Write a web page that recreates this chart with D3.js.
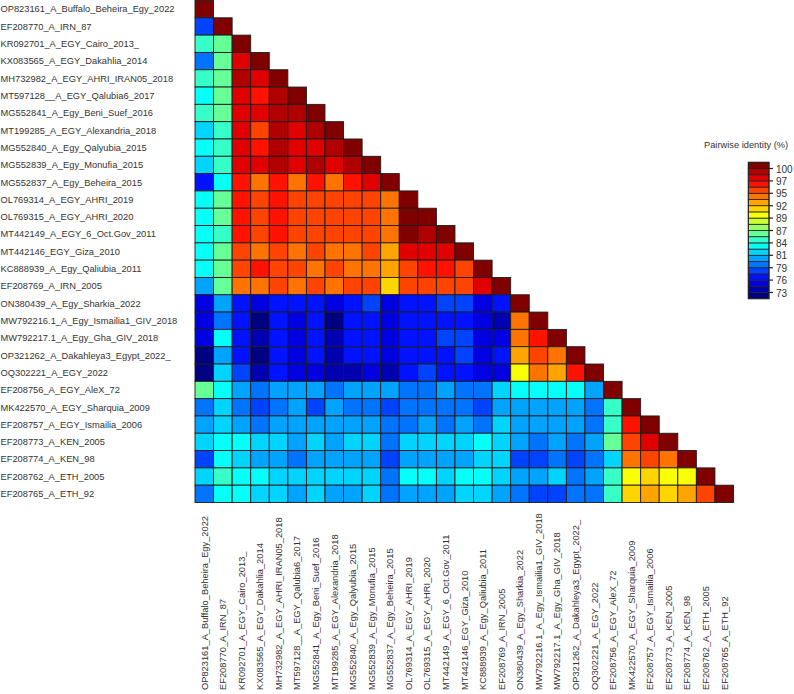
<!DOCTYPE html>
<html>
<head>
<meta charset="utf-8">
<script src="https://cdn.jsdelivr.net/npm/d3@7"></script>
<style>
  body { margin: 0; background: #fff; }
  svg { display: block; font-family: "Liberation Sans", Arial, sans-serif; }
</style>
</head>
<body>
<svg id="chart" width="794" height="694"></svg>
<script>
// sequence names (rows top->bottom, columns left->right)
const seqNames = [
  "OP823161_A_Buffalo_Beheira_Egy_2022",
  "EF208770_A_IRN_87",
  "KR092701_A_EGY_Cairo_2013_",
  "KX083565_A_EGY_Dakahlia_2014",
  "MH732982_A_EGY_AHRI_IRAN05_2018",
  "MT597128__A_EGY_Qalubia6_2017",
  "MG552841_A_Egy_Beni_Suef_2016",
  "MT199285_A_EGY_Alexandria_2018",
  "MG552840_A_Egy_Qalyubia_2015",
  "MG552839_A_Egy_Monufia_2015",
  "MG552837_A_Egy_Beheira_2015",
  "OL769314_A_EGY_AHRI_2019",
  "OL769315_A_EGY_AHRI_2020",
  "MT442149_A_EGY_6_Oct.Gov_2011",
  "MT442146_EGY_Giza_2010",
  "KC888939_A_Egy_Qaliubia_2011",
  "EF208769_A_IRN_2005",
  "ON380439_A_Egy_Sharkia_2022",
  "MW792216.1_A_Egy_Ismailia1_GIV_2018",
  "MW792217.1_A_Egy_Gha_GIV_2018",
  "OP321262_A_Dakahleya3_Egypt_2022_",
  "OQ302221_A_EGY_2022",
  "EF208756_A_EGY_AleX_72",
  "MK422570_A_EGY_Sharquia_2009",
  "EF208757_A_EGY_Ismailia_2006",
  "EF208773_A_KEN_2005",
  "EF208774_A_KEN_98",
  "EF208762_A_ETH_2005",
  "EF208765_A_ETH_92"
];

// pairwise identity (%), lower triangle, row i has columns 0..i
const identity = [
  [100],
  [77.7, 100],
  [84.5, 85.8, 100],
  [79.1, 85.8, 98.0, 100],
  [84.5, 85.8, 99.3, 98.0, 100],
  [83.1, 85.8, 98.0, 96.6, 99.3, 100],
  [84.5, 85.8, 98.0, 98.0, 99.3, 99.3, 100],
  [81.8, 84.5, 98.0, 95.3, 99.3, 98.0, 99.3, 100],
  [83.1, 84.5, 98.0, 96.6, 99.3, 98.0, 98.0, 99.3, 100],
  [81.8, 84.5, 98.0, 98.0, 99.3, 98.0, 99.3, 98.0, 99.3, 100],
  [76.4, 83.1, 96.6, 93.9, 96.6, 93.9, 96.6, 93.9, 96.6, 98.0, 100],
  [83.1, 85.8, 96.6, 95.3, 96.6, 95.3, 95.3, 95.3, 95.3, 95.3, 93.9, 100],
  [83.1, 85.8, 96.6, 95.3, 96.6, 95.3, 95.3, 95.3, 95.3, 95.3, 93.9, 100, 100],
  [83.1, 84.5, 96.6, 95.3, 96.6, 95.3, 95.3, 95.3, 95.3, 95.3, 93.9, 100, 99.3, 100],
  [83.1, 85.8, 95.3, 93.9, 95.3, 93.9, 95.3, 93.9, 93.9, 95.3, 92.6, 98.0, 98.0, 98.0, 100],
  [83.1, 85.8, 95.3, 96.6, 95.3, 95.3, 93.9, 95.3, 93.9, 93.9, 92.6, 95.3, 96.6, 96.6, 95.3, 100],
  [80.4, 85.8, 93.9, 93.9, 95.3, 93.9, 95.3, 93.9, 95.3, 95.3, 91.2, 95.3, 95.3, 95.3, 95.3, 98.0, 100],
  [75.0, 80.4, 76.4, 75.0, 76.4, 76.4, 76.4, 75.0, 76.4, 77.7, 75.0, 76.4, 76.4, 77.7, 77.7, 75.0, 76.4, 100],
  [75.0, 79.1, 76.4, 72.3, 76.4, 75.0, 76.4, 72.3, 76.4, 76.4, 75.0, 76.4, 76.4, 76.4, 76.4, 75.0, 73.7, 93.9, 100],
  [75.0, 83.1, 76.4, 73.7, 76.4, 75.0, 76.4, 73.7, 76.4, 76.4, 75.0, 76.4, 76.4, 77.7, 77.7, 75.0, 75.0, 93.9, 96.6, 100],
  [72.3, 80.4, 76.4, 72.3, 76.4, 75.0, 76.4, 73.7, 76.4, 76.4, 75.0, 76.4, 76.4, 76.4, 77.7, 75.0, 76.4, 92.6, 95.3, 93.9, 100],
  [72.3, 81.8, 77.7, 73.7, 76.4, 75.0, 75.0, 73.7, 73.7, 75.0, 73.7, 76.4, 77.7, 76.4, 76.4, 75.0, 75.0, 89.9, 93.9, 92.6, 96.6, 100],
  [85.8, 83.1, 80.4, 79.1, 80.4, 80.4, 80.4, 79.1, 80.4, 80.4, 80.4, 79.1, 79.1, 80.4, 79.1, 79.1, 81.8, 83.1, 83.1, 83.1, 83.1, 80.4, 100],
  [79.1, 81.8, 79.1, 77.7, 79.1, 80.4, 77.7, 80.4, 79.1, 79.1, 77.7, 79.1, 79.1, 79.1, 79.1, 77.7, 80.4, 80.4, 80.4, 80.4, 80.4, 79.1, 84.5, 100],
  [80.4, 81.8, 80.4, 79.1, 80.4, 80.4, 80.4, 80.4, 80.4, 80.4, 79.1, 79.1, 80.4, 79.1, 80.4, 79.1, 81.8, 80.4, 80.4, 80.4, 80.4, 79.1, 84.5, 96.6, 100],
  [81.8, 83.1, 83.1, 81.8, 81.8, 80.4, 81.8, 80.4, 81.8, 81.8, 79.1, 81.8, 81.8, 81.8, 81.8, 83.1, 81.8, 80.4, 79.1, 80.4, 79.1, 80.4, 85.8, 95.3, 98.0, 100],
  [77.7, 83.1, 81.8, 80.4, 80.4, 79.1, 80.4, 80.4, 80.4, 80.4, 77.7, 80.4, 80.4, 80.4, 80.4, 81.8, 81.8, 77.7, 77.7, 79.1, 77.7, 79.1, 81.8, 93.9, 95.3, 93.9, 100],
  [81.8, 84.5, 83.1, 83.1, 81.8, 81.8, 81.8, 81.8, 81.8, 81.8, 79.1, 83.1, 83.1, 81.8, 83.1, 83.1, 81.8, 80.4, 80.4, 81.8, 79.1, 80.4, 84.5, 89.9, 91.2, 89.9, 89.9, 100],
  [79.1, 83.1, 83.1, 81.8, 81.8, 80.4, 81.8, 80.4, 80.4, 81.8, 79.1, 80.4, 80.4, 80.4, 81.8, 81.8, 80.4, 79.1, 77.7, 77.7, 79.1, 79.1, 84.5, 91.2, 92.6, 91.2, 92.6, 95.3, 100]
];

// colour key
const legendTitle = "Pairwise identity (%)";
const legendTicks = ["100", "97", "95", "92", "89", "87", "84", "81", "79", "76", "73"];
const nBins = 22;
const colourDomain = [71.65, 101.35];

// jet colour map
function jet(t) {
  const c = v => Math.round(255 * Math.max(0, Math.min(1, v)));
  return d3.rgb(c(1.5 - Math.abs(4 * t - 3)), c(1.5 - Math.abs(4 * t - 2)), c(1.5 - Math.abs(4 * t - 1))).formatHex();
}
const jetColours = d3.range(nBins).map(k => jet(k / (nBins - 1)));

const color = d3.scaleQuantize().domain(colourDomain).range(jetColours);

const svg = d3.select("#chart");

// heatmap
const x = d3.scaleBand().domain(seqNames).range([195, 733.5]);
const y = d3.scaleBand().domain(seqNames).range([0.5, 502.5]);

const cells = [];
identity.forEach((row, i) => row.forEach((v, j) => cells.push({ r: seqNames[i], c: seqNames[j], v: v })));

svg.append("g")
  .selectAll("rect")
  .data(cells)
  .enter()
  .append("rect")
    .attr("x", d => x(d.c))
    .attr("y", d => y(d.r))
    .attr("width", x.bandwidth())
    .attr("height", y.bandwidth())
    .attr("fill", d => color(d.v))
    .attr("stroke", "#1c1c1c")
    .attr("stroke-width", 0.9);

// row labels
svg.append("g")
  .selectAll("text")
  .data(seqNames)
  .enter()
  .append("text")
    .attr("x", 0.5)
    .attr("y", d => y(d) + y.bandwidth() / 2)
    .attr("dy", "0.35em")
    .style("font-size", "9.3px")
    .attr("fill", "#333")
    .text(d => d);

// column labels
svg.append("g")
  .selectAll("text")
  .data(seqNames)
  .enter()
  .append("text")
    .attr("transform", d => "translate(" + (x(d) + x.bandwidth() / 2 + 3.3) + ",690) rotate(-90)")
    .style("font-size", "9.3px")
    .attr("fill", "#333")
    .text(d => d);

// legend
const legY = d3.scaleBand().domain(d3.range(nBins - 1, -1, -1)).range([162.3, 298.7]);
const leg = svg.append("g");

leg.selectAll("rect")
  .data(d3.range(nBins))
  .enter()
  .append("rect")
    .attr("x", 748.3)
    .attr("y", k => legY(k))
    .attr("width", 20.7)
    .attr("height", legY.bandwidth())
    .attr("fill", k => jetColours[k])
    .attr("stroke", "#222")
    .attr("stroke-width", 0.8);

leg.append("rect")
  .attr("x", 748.3).attr("y", 162.3)
  .attr("width", 20.7).attr("height", 136.4)
  .attr("fill", "none").attr("stroke", "#222").attr("stroke-width", 1);

const tickY = d3.scalePoint().domain(legendTicks).range([162.3 + legY.bandwidth(), 298.7 - legY.bandwidth()]);

leg.selectAll("line")
  .data(legendTicks)
  .enter()
  .append("line")
    .attr("x1", 769).attr("x2", 773)
    .attr("y1", d => tickY(d)).attr("y2", d => tickY(d))
    .attr("stroke", "#222").attr("stroke-width", 1.2);

leg.selectAll("text.tick")
  .data(legendTicks)
  .enter()
  .append("text")
    .attr("class", "tick")
    .attr("x", 776)
    .attr("y", d => tickY(d))
    .attr("dy", "0.4em")
    .style("font-size", "10px")
    .attr("fill", "#333")
    .text(d => d);

leg.append("text")
  .attr("x", 704)
  .attr("y", 148)
  .style("font-size", "9.3px")
  .attr("fill", "#333")
  .text(legendTitle);
</script>
</body>
</html>
